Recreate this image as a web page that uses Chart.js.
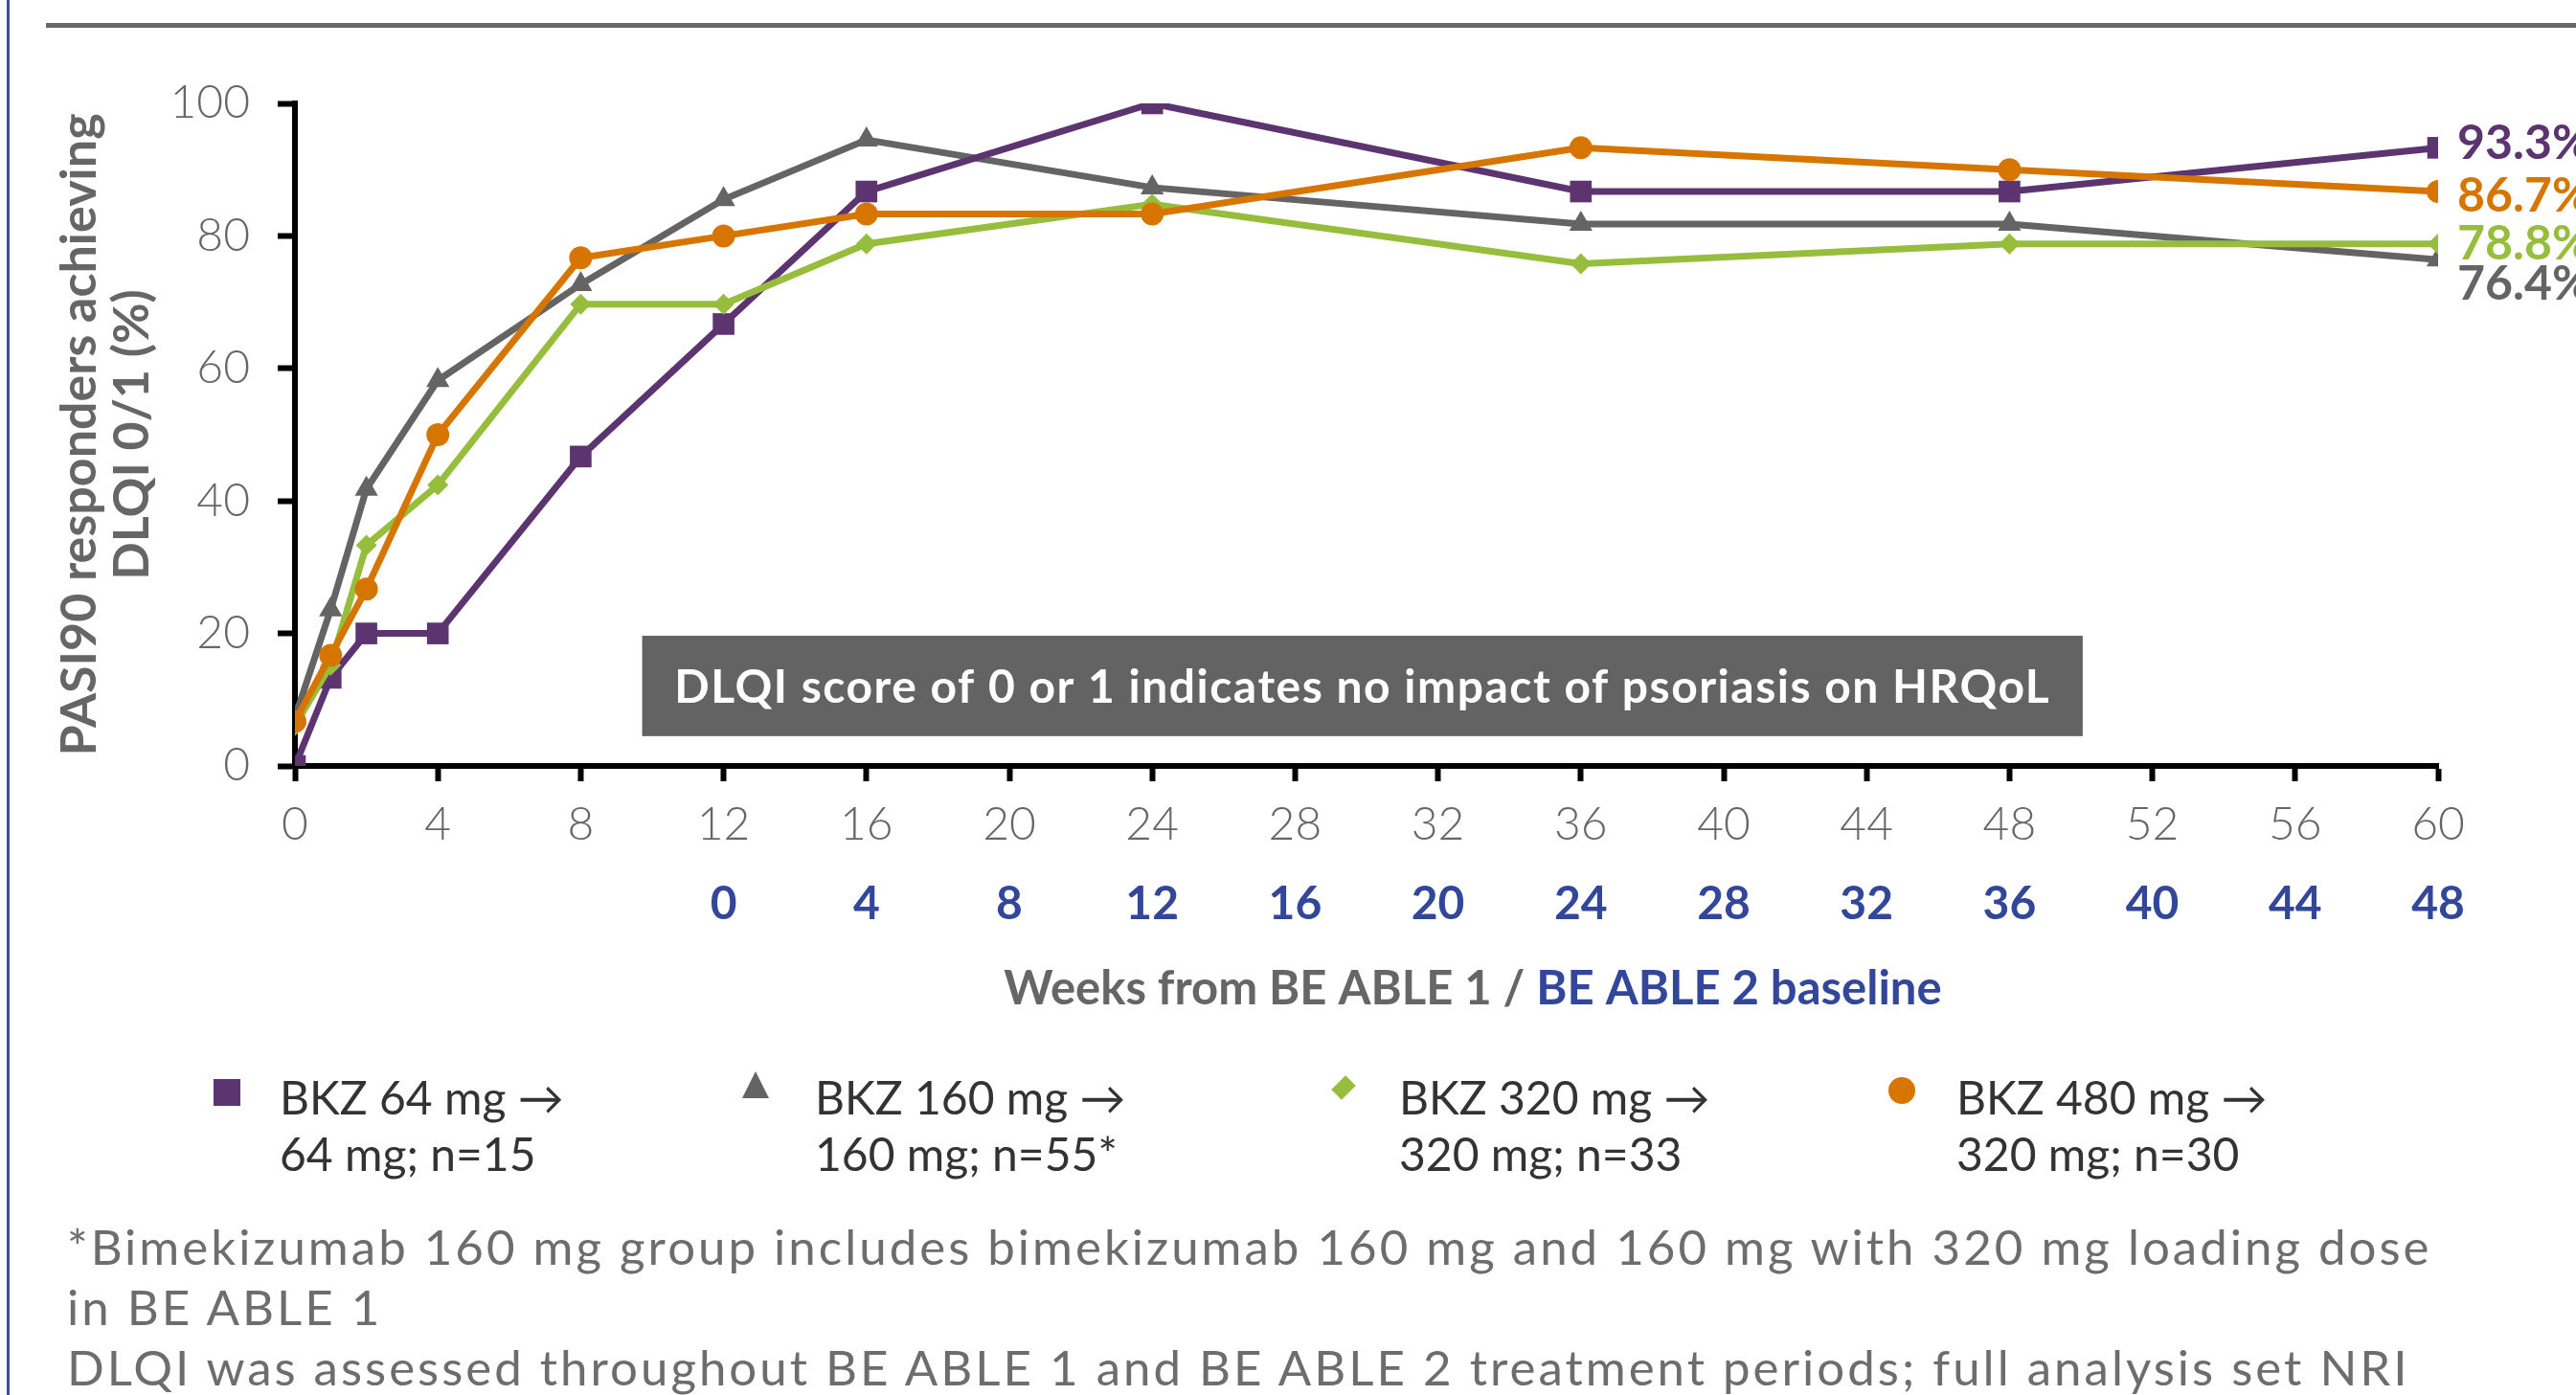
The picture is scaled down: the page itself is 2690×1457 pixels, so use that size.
<!DOCTYPE html>
<html>
<head>
<meta charset="utf-8">
<script src="https://cdn.jsdelivr.net/npm/chart.js@4.4.1/dist/chart.umd.min.js"></script>
<style>
  body { margin: 0; width: 2690px; height: 1457px; overflow: hidden; background: #fff; font-family: Lato, sans-serif; position: relative; }
  #wrap { position: absolute; left: 0; top: 0; width: 2690px; height: 1457px; }
  .topline { position: absolute; left: 48px; top: 24px; width: 2642px; height: 5px; background: #666; }
  .sideline { position: absolute; left: 7px; top: 0; width: 3px; height: 1457px; background: #3b4ea0; }
  .leg { position: absolute; top: 1116px; font-size: 48px; line-height: 59px; color: #333; }
  .mk { position: absolute; }
  .notes { position: absolute; left: 70px; top: 1270px; font-size: 51px; line-height: 63px; color: #6d6d6d; letter-spacing: 3px; white-space: nowrap; }
</style>
</head>
<body>
<div class="sideline"></div>
<div class="topline"></div>
<div id="wrap"><canvas id="dlqiChart"></canvas></div>

<div class="mk" style="left:223px;top:1127px;width:28px;height:28px;background:#5c3470"></div>
<div class="mk" style="left:775px;top:1119px;width:0;height:0;border-left:14px solid transparent;border-right:14px solid transparent;border-bottom:28px solid #646464"></div>
<div class="mk" style="left:1393px;top:1126px;width:20px;height:20px;background:#96bd3b;transform:rotate(45deg) scale(0.75,1.05)"></div>
<div class="mk" style="left:1972px;top:1125px;width:28px;height:28px;border-radius:50%;background:#d67600"></div>

<div class="leg" style="left:292px">BKZ 64 mg →<br>64 mg; n=15</div>
<div class="leg" style="left:851px">BKZ 160 mg →<br>160 mg; n=55*</div>
<div class="leg" style="left:1461px">BKZ 320 mg →<br>320 mg; n=33</div>
<div class="leg" style="left:2043px">BKZ 480 mg →<br>320 mg; n=30</div>

<div class="notes">*Bimekizumab 160 mg group includes bimekizumab 160 mg and 160 mg with 320 mg loading dose<br>in BE ABLE 1<br>DLQI was assessed throughout BE ABLE 1 and BE ABLE 2 treatment periods; full analysis set NRI</div>

<script>
// weeks from BE ABLE 1 baseline
const weeks = [0, 1, 2, 4, 8, 12, 16, 24, 36, 48, 60];

// % PASI90 responders achieving DLQI 0/1
const bkz64 = [0, 13.3, 20, 20, 46.7, 66.7, 86.7, 100, 86.7, 86.7, 93.3];
const bkz160 = [7.3, 23.6, 41.8, 58.2, 72.7, 85.5, 94.5, 87.3, 81.8, 81.8, 76.4];
const bkz320 = [6.1, 15.2, 33.3, 42.4, 69.7, 69.7, 78.8, 84.8, 75.8, 78.8, 78.8];
const bkz480 = [6.7, 16.7, 26.7, 50, 76.7, 80, 83.3, 83.3, 93.3, 90, 86.7];

// second row of x labels (BE ABLE 2 weeks), one per BE ABLE 1 tick
const able2Labels = ['', '', '', '0', '4', '8', '12', '16', '20', '24', '28', '32', '36', '40', '44', '48'];

const purple = '#5c3470';
const grey = '#646464';
const green = '#96bd3b';
const orange = '#d67600';
const blue = '#33479a';

Chart.defaults.font.family = 'Lato, sans-serif';

const pts = (vals) => weeks.map((w, i) => ({ x: w, y: vals[i] }));

// annotation box + end labels + two-coloured x title
const extras = {
  id: 'extras',
  afterDraw(chart) {
    const { ctx, scales: { x, y } } = chart;
    ctx.save();

    const bx1 = x.getPixelForValue(9.72), bx2 = x.getPixelForValue(50.05);
    const by1 = y.getPixelForValue(19.65), by2 = y.getPixelForValue(4.5);
    ctx.fillStyle = '#636363';
    ctx.fillRect(bx1, by1, bx2 - bx1, by2 - by1);
    ctx.fillStyle = '#fff';
    ctx.font = 'bold 48px Lato, sans-serif';
    ctx.letterSpacing = '1.5px';
    ctx.textAlign = 'center';
    ctx.textBaseline = 'middle';
    ctx.fillText('DLQI score of 0 or 1 indicates no impact of psoriasis on HRQoL', (bx1 + bx2) / 2, (by1 + by2) / 2 + 2);
    ctx.letterSpacing = '0px';

    const nudge = [-4, 26, 0, 5];
    ctx.font = 'bold 50px Lato, sans-serif';
    ctx.textAlign = 'left';
    chart.data.datasets.forEach((ds, i) => {
      const meta = chart.getDatasetMeta(i);
      const p = meta.data[meta.data.length - 1];
      const v = ds.data[ds.data.length - 1].y;
      ctx.fillStyle = ds.borderColor;
      ctx.fillText(v.toFixed(1) + '%', p.x + 20, p.y + nudge[i]);
    });

    ctx.font = 'bold 49px Lato, sans-serif';
    ctx.textBaseline = 'alphabetic';
    const t1 = 'Weeks from BE ABLE 1 / ';
    const t2 = 'BE ABLE 2 baseline';
    const w1 = ctx.measureText(t1).width, w2 = ctx.measureText(t2).width;
    const sx = 1538 - (w1 + w2) / 2;
    ctx.fillStyle = '#666';
    ctx.fillText(t1, sx, 1049);
    ctx.fillStyle = blue;
    ctx.fillText(t2, sx + w1, 1049);
    ctx.restore();
  }
};

new Chart(document.getElementById('dlqiChart').getContext('2d'), {
  type: 'line',
  data: {
    datasets: [
      { label: 'BKZ 64 mg', data: pts(bkz64), borderColor: purple, backgroundColor: purple, pointStyle: 'rect', pointRadius: 16, order: 3 },
      { label: 'BKZ 160 mg', data: pts(bkz160), borderColor: grey, backgroundColor: grey, pointStyle: 'triangle', pointRadius: 14, order: 4 },
      { label: 'BKZ 320 mg', data: pts(bkz320), borderColor: green, backgroundColor: green, pointStyle: 'rectRot', pointRadius: 11, order: 2 },
      { label: 'BKZ 480 mg', data: pts(bkz480), borderColor: orange, backgroundColor: orange, pointStyle: 'circle', pointRadius: 12, order: 1 }
    ]
  },
  options: {
    responsive: true,
    maintainAspectRatio: false,
    animation: false,
    elements: { line: { borderWidth: 7, tension: 0 }, point: { borderWidth: 0, hoverRadius: 14 } },
    layout: { padding: { left: 30, right: 144, top: 108, bottom: 467 } },
    plugins: { legend: { display: false }, tooltip: { enabled: false } },
    scales: {
      x: {
        type: 'linear', position: 'bottom', min: 0, max: 60,
        ticks: { stepSize: 4, color: '#666', font: { size: 48, weight: '300' }, padding: 17 },
        grid: { drawOnChartArea: false, drawTicks: true, tickLength: 16, tickWidth: 6, tickColor: '#000' },
        border: { color: '#000', width: 6 },
        afterFit: (s) => { s.height = 100; }
      },
      x2: {
        type: 'linear', position: 'bottom', min: 0, max: 60,
        ticks: { stepSize: 4, color: blue, font: { size: 48, weight: 'bold' }, padding: 16, callback: (v, i) => able2Labels[i] },
        grid: { display: false, drawTicks: false },
        border: { display: false },
        afterFit: (s) => { s.height = 90; }
      },
      y: {
        min: 0, max: 100,
        ticks: { stepSize: 20, color: '#666', font: { size: 48, weight: '300' }, padding: 29 },
        grid: { drawOnChartArea: false, drawTicks: true, tickLength: 18, tickWidth: 6, tickColor: '#000' },
        border: { color: '#000', width: 6 },
        title: {
          display: true,
          text: ['PASI90 responders achieving', 'DLQI 0/1 (%)'],
          color: '#666',
          font: { size: 52, weight: 'bold', lineHeight: 1.06 },
          padding: { top: 26, bottom: 0 }
        },
        afterFit: (s) => { s.width = 278; }
      }
    }
  },
  plugins: [extras]
});
</script>
</body>
</html>
